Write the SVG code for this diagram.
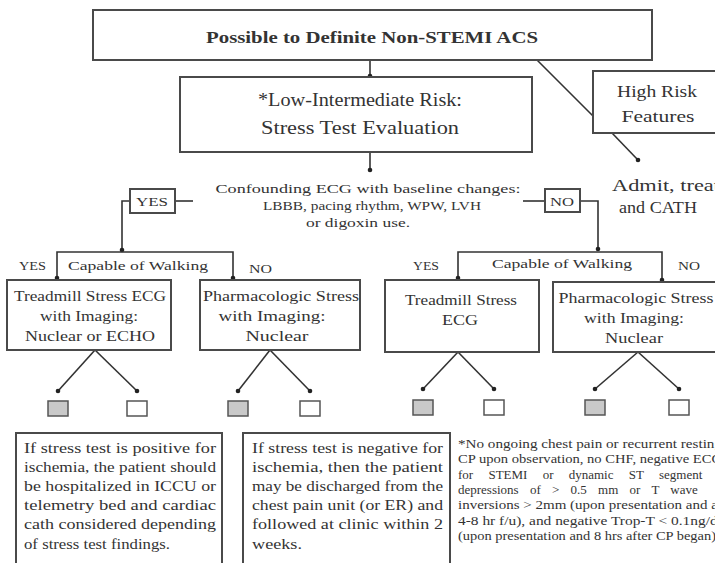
<svg xmlns="http://www.w3.org/2000/svg" width="715" height="563" viewBox="0 0 715 563">
<defs>
<marker id="dot" markerWidth="6" markerHeight="6" refX="3" refY="3" markerUnits="userSpaceOnUse"><circle cx="3" cy="3" r="2.3" fill="#222"/></marker>
<style>
.box{fill:#fff;stroke:#4a4a4a;stroke-width:2}
.sb{stroke:#555;stroke-width:1.5}
.g{fill:#c9c9c9}
.w{fill:#fff}
.ln{fill:none;stroke:#333;stroke-width:1.6}
.ar{fill:none;stroke:#333;stroke-width:1.6;marker-end:url(#dot)}
.t{font-family:"Liberation Serif",serif;fill:#333}
.m{text-anchor:middle}
.b14{font-size:14px}
.s13{font-size:13.5px}
.p{font-size:15.5px}
.f{font-size:12px}
</style>
</defs>
<rect width="715" height="563" fill="#fff"/>
<g id="connectors">
<path class="ar" d="M370,60 V76"/>
<path class="ar" d="M370,152 V170"/>
<path class="ln" d="M537,60 L593,116"/>
<path class="ar" d="M612,133 L638,160"/>
<path class="ln" d="M175,201 H193"/>
<path class="ar" d="M130,201 H122 V250"/>
<path class="ar" d="M145,252 H57 V278"/>
<path class="ar" d="M145,252 H233 V278"/>
<path class="ln" d="M523,201 H545"/>
<path class="ar" d="M580,201 H598 V249"/>
<path class="ar" d="M560,252 H458 V278"/>
<path class="ar" d="M560,252 H662 V280"/>
<path class="ar" d="M95,350 L58,391"/>
<path class="ar" d="M95,350 L137,391"/>
<path class="ar" d="M270,350 L238,391"/>
<path class="ar" d="M270,350 L310,391"/>
<path class="ar" d="M458,352 L423,389"/>
<path class="ar" d="M458,352 L494,389"/>
<path class="ar" d="M638,352 L595,389"/>
<path class="ar" d="M638,352 L679,389"/>
</g>
<g id="n-title">
<rect class="box" x="93" y="10" width="559" height="50"/>
<text class="t m" x="372" y="43" font-size="17" font-weight="bold" textLength="332" lengthAdjust="spacingAndGlyphs">Possible to Definite Non-STEMI ACS</text>
</g>
<g id="n-low">
<rect class="box" x="180" y="77" width="352" height="75"/>
<text class="t m" x="360" y="106" font-size="18" textLength="204" lengthAdjust="spacingAndGlyphs">*Low-Intermediate Risk:</text>
<text class="t m" x="360" y="134" font-size="18" textLength="198" lengthAdjust="spacingAndGlyphs">Stress Test Evaluation</text>
</g>
<g id="n-high">
<rect class="box" x="593" y="71" width="130" height="62"/>
<text class="t m" x="657" y="97" font-size="17" textLength="80" lengthAdjust="spacingAndGlyphs">High Risk</text>
<text class="t m" x="658" y="122" font-size="17" textLength="73" lengthAdjust="spacingAndGlyphs">Features</text>
</g>
<g id="n-admit">
<text class="t" x="612" y="191" font-size="17" textLength="108" lengthAdjust="spacingAndGlyphs">Admit, treat</text>
<text class="t" x="619" y="213" font-size="17" textLength="78" lengthAdjust="spacingAndGlyphs">and CATH</text>
</g>
<g id="n-confounding">
<text class="t m s13" x="368" y="193" textLength="305" lengthAdjust="spacingAndGlyphs">Confounding ECG with baseline changes:</text>
<text class="t m s13" x="372" y="210" textLength="218" lengthAdjust="spacingAndGlyphs">LBBB, pacing rhythm, WPW, LVH</text>
<text class="t m s13" x="358" y="227" textLength="104" lengthAdjust="spacingAndGlyphs">or digoxin use.</text>
</g>
<g id="n-yes">
<rect class="box" x="130" y="189" width="45" height="24"/>
<text class="t m s13" x="152" y="206" textLength="32" lengthAdjust="spacingAndGlyphs">YES</text>
</g>
<g id="n-no">
<rect class="box" x="545" y="189" width="35" height="23"/>
<text class="t m s13" x="562" y="206" textLength="24" lengthAdjust="spacingAndGlyphs">NO</text>
</g>
<g id="n-walk-left">
<text class="t" x="19" y="270" font-size="12" textLength="27" lengthAdjust="spacingAndGlyphs">YES</text>
<text class="t s13" x="68" y="270" textLength="140" lengthAdjust="spacingAndGlyphs">Capable of Walking</text>
<text class="t" x="249" y="273" font-size="12" textLength="23" lengthAdjust="spacingAndGlyphs">NO</text>
</g>
<g id="n-walk-right">
<text class="t" x="413" y="270" font-size="12" textLength="26" lengthAdjust="spacingAndGlyphs">YES</text>
<text class="t s13" x="492" y="268" textLength="140" lengthAdjust="spacingAndGlyphs">Capable of Walking</text>
<text class="t" x="678" y="270" font-size="12" textLength="22" lengthAdjust="spacingAndGlyphs">NO</text>
</g>
<g id="n-treadmill-left">
<rect class="box" x="7" y="280" width="164" height="70"/>
<text class="t m b14" x="90" y="301" textLength="152" lengthAdjust="spacingAndGlyphs">Treadmill Stress ECG</text>
<text class="t m b14" x="89" y="321" textLength="98" lengthAdjust="spacingAndGlyphs">with Imaging:</text>
<text class="t m b14" x="90" y="341" textLength="130" lengthAdjust="spacingAndGlyphs">Nuclear or ECHO</text>
</g>
<g id="n-pharm-left">
<rect class="box" x="200" y="280" width="160" height="70"/>
<text class="t m b14" x="281" y="301" textLength="156" lengthAdjust="spacingAndGlyphs">Pharmacologic Stress</text>
<text class="t m b14" x="272" y="321" textLength="107" lengthAdjust="spacingAndGlyphs">with Imaging:</text>
<text class="t m b14" x="277" y="341" textLength="63" lengthAdjust="spacingAndGlyphs">Nuclear</text>
</g>
<g id="n-treadmill-right">
<rect class="box" x="385" y="280" width="154" height="72"/>
<text class="t m b14" x="461" y="305" textLength="112" lengthAdjust="spacingAndGlyphs">Treadmill Stress</text>
<text class="t m b14" x="460" y="325" textLength="36" lengthAdjust="spacingAndGlyphs">ECG</text>
</g>
<g id="n-pharm-right">
<rect class="box" x="553" y="282" width="170" height="70"/>
<text class="t m b14" x="636" y="303" textLength="155" lengthAdjust="spacingAndGlyphs">Pharmacologic Stress</text>
<text class="t m b14" x="634" y="323" textLength="100" lengthAdjust="spacingAndGlyphs">with Imaging:</text>
<text class="t m b14" x="634" y="343" textLength="58" lengthAdjust="spacingAndGlyphs">Nuclear</text>
</g>
<g id="n-out">
<rect class="sb g" x="48" y="401" width="20" height="15"/>
<rect class="sb w" x="127" y="401" width="20" height="15"/>
<rect class="sb g" x="228" y="401" width="20" height="15"/>
<rect class="sb w" x="300" y="401" width="20" height="15"/>
<rect class="sb g" x="413" y="400" width="20" height="15"/>
<rect class="sb w" x="484" y="400" width="20" height="15"/>
<rect class="sb g" x="585" y="400" width="20" height="15"/>
<rect class="sb w" x="669" y="400" width="20" height="15"/>
</g>
<g id="n-positive">
<rect class="box" x="16" y="433" width="206" height="140"/>
<text class="t p" x="24" y="453" textLength="192" lengthAdjust="spacingAndGlyphs">If stress test is positive for</text>
<text class="t p" x="24" y="472" textLength="192" lengthAdjust="spacingAndGlyphs">ischemia, the patient should</text>
<text class="t p" x="24" y="491" textLength="192" lengthAdjust="spacingAndGlyphs">be hospitalized in ICCU or</text>
<text class="t p" x="24" y="510" textLength="192" lengthAdjust="spacingAndGlyphs">telemetry bed and cardiac</text>
<text class="t p" x="24" y="529" textLength="192" lengthAdjust="spacingAndGlyphs">cath considered depending</text>
<text class="t p" x="24" y="549" textLength="146" lengthAdjust="spacingAndGlyphs">of stress test findings.</text>
</g>
<g id="n-negative">
<rect class="box" x="243" y="433" width="207" height="140"/>
<text class="t p" x="252" y="453" textLength="191" lengthAdjust="spacingAndGlyphs">If stress test is negative for</text>
<text class="t p" x="252" y="472" textLength="191" lengthAdjust="spacingAndGlyphs">ischemia, then the patient</text>
<text class="t p" x="252" y="491" textLength="191" lengthAdjust="spacingAndGlyphs">may be discharged from the</text>
<text class="t p" x="252" y="510" textLength="191" lengthAdjust="spacingAndGlyphs">chest pain unit (or ER) and</text>
<text class="t p" x="252" y="529" textLength="191" lengthAdjust="spacingAndGlyphs">followed at clinic within 2</text>
<text class="t p" x="252" y="549" textLength="50" lengthAdjust="spacingAndGlyphs">weeks.</text>
</g>
<g id="n-footnote">
<text class="t f" x="458" y="448" textLength="264" lengthAdjust="spacingAndGlyphs">*No ongoing chest pain or recurrent resting</text>
<text class="t f" x="458" y="463" textLength="264" lengthAdjust="spacingAndGlyphs">CP upon observation, no CHF, negative ECG</text>
<text class="t" x="458" y="479" font-size="13" word-spacing="12">for STEMI or dynamic ST segment</text>
<text class="t" x="458" y="494" font-size="13" word-spacing="8">depressions of &gt; 0.5 mm or T wave</text>
<text class="t f" x="458" y="509" textLength="264" lengthAdjust="spacingAndGlyphs">inversions &gt; 2mm (upon presentation and at</text>
<text class="t f" x="458" y="525" textLength="264" lengthAdjust="spacingAndGlyphs">4-8 hr f/u), and negative Trop-T &lt; 0.1ng/dl</text>
<text class="t f" x="458" y="540" textLength="258" lengthAdjust="spacingAndGlyphs">(upon presentation and 8 hrs after CP began)</text>
</g>
</svg>
